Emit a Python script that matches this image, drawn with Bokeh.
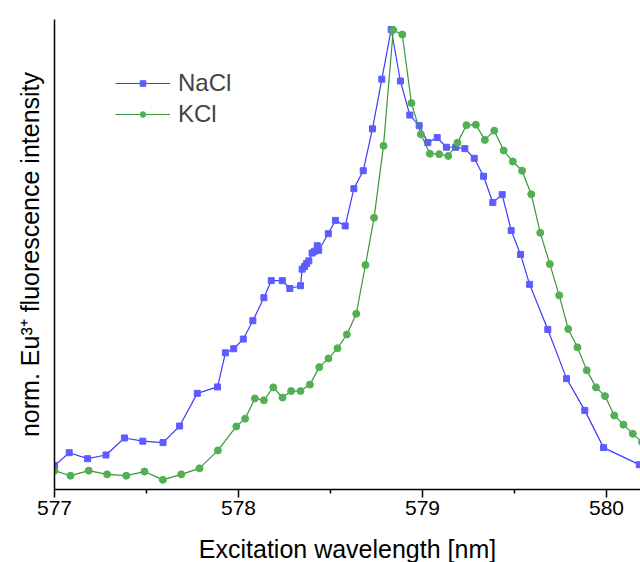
from bokeh.plotting import figure
from bokeh.models import Range1d, FixedTicker, Legend, LegendItem
from bokeh.embed import file_html
from bokeh.resources import INLINE

# ---------------- data ----------------
nacl_wl = [577.000, 577.080, 577.180, 577.280, 577.380, 577.480, 577.590, 577.680, 577.776, 577.886,
           577.929, 577.974, 578.026, 578.078, 578.138, 578.178, 578.238, 578.279, 578.337, 578.346,
           578.359, 578.370, 578.382, 578.400, 578.413, 578.428, 578.436, 578.488, 578.527, 578.580,
           578.627, 578.678, 578.728, 578.779, 578.830, 578.880, 578.931, 578.982, 579.029, 579.080,
           579.130, 579.181, 579.230, 579.281, 579.332, 579.382, 579.433, 579.482, 579.533, 579.582,
           579.681, 579.783, 579.882, 579.984, 580.178]
nacl_int = [0.052, 0.080, 0.067, 0.075, 0.112, 0.105, 0.102, 0.138, 0.209, 0.223,
            0.297, 0.306, 0.327, 0.367, 0.417, 0.454, 0.454, 0.437, 0.443, 0.479,
            0.485, 0.491, 0.497, 0.514, 0.518, 0.530, 0.520, 0.556, 0.585, 0.573,
            0.654, 0.693, 0.784, 0.892, 1.000, 0.888, 0.814, 0.791, 0.754, 0.765,
            0.744, 0.744, 0.741, 0.720, 0.681, 0.624, 0.641, 0.563, 0.511, 0.446,
            0.348, 0.241, 0.172, 0.091, 0.054]

kcl_wl = [577.000, 577.087, 577.186, 577.286, 577.390, 577.489, 577.589, 577.689, 577.788, 577.888,
          577.988, 578.036, 578.089, 578.138, 578.189, 578.239, 578.286, 578.337, 578.388, 578.439,
          578.489, 578.538, 578.589, 578.640, 578.690, 578.737, 578.788, 578.841, 578.890, 578.940,
          578.991, 579.040, 579.091, 579.140, 579.190, 579.239, 579.290, 579.339, 579.390, 579.441,
          579.491, 579.541, 579.591, 579.640, 579.692, 579.743, 579.792, 579.842, 579.893, 579.943,
          579.992, 580.042, 580.092, 580.143, 580.193]
kcl_int = [0.041, 0.030, 0.041, 0.033, 0.030, 0.039, 0.021, 0.033, 0.046, 0.085,
           0.137, 0.154, 0.198, 0.194, 0.222, 0.200, 0.214, 0.214, 0.228, 0.266,
           0.285, 0.307, 0.337, 0.382, 0.488, 0.591, 0.747, 0.999, 0.989, 0.840,
           0.772, 0.730, 0.729, 0.725, 0.754, 0.792, 0.793, 0.760, 0.780, 0.737,
           0.713, 0.693, 0.642, 0.558, 0.490, 0.422, 0.349, 0.309, 0.259, 0.222,
           0.203, 0.161, 0.141, 0.121, 0.103]

series_names = ["NaCl", "KCl"]
x_ticks = [577, 578, 579, 580]
x_minor_ticks = [577.5, 578.5, 579.5]
x_title = "Excitation wavelength [nm]"
y_title = "norm. Eu\u00b3\u207a fluorescence intensity"

FONT = "Liberation Sans"

p = figure(width=640, height=570, output_backend="svg", toolbar_location=None,
           x_range=Range1d(577, 580.1848), y_range=Range1d(0, 1.0217),
           min_border_left=54, min_border_right=0, min_border_top=19, min_border_bottom=81)
p.outline_line_color = None
p.xgrid.visible = False
p.ygrid.visible = False
p.background_fill_color = "white"
p.border_fill_color = "white"

# x axis
xa = p.xaxis[0]
xa.ticker = FixedTicker(ticks=x_ticks, minor_ticks=x_minor_ticks)
xa.axis_line_color = "black"
xa.axis_line_width = 1.5
xa.major_tick_line_width = 1.5
xa.minor_tick_line_width = 1.5
xa.major_tick_out = 8
xa.major_tick_in = 0
xa.minor_tick_out = 4
xa.minor_tick_in = 0
xa.major_label_text_font = FONT
xa.major_label_text_font_size = "21px"
xa.major_label_text_color = "black"
xa.major_label_standoff = 3
xa.axis_label = x_title
xa.axis_label_text_font = FONT
xa.axis_label_text_font_size = "25px"
xa.axis_label_text_font_style = "normal"
xa.axis_label_text_color = "black"
xa.axis_label_standoff = 17

# y axis: bare line with title
ya = p.yaxis[0]
ya.ticker = FixedTicker(ticks=[])
ya.axis_line_color = "black"
ya.axis_line_width = 1.5
ya.major_tick_out = 0
ya.major_tick_in = 0
ya.minor_tick_out = 0
ya.minor_tick_in = 0
ya.major_label_text_font_size = "0px"
ya.major_label_standoff = 0
ya.axis_label = y_title
ya.axis_label_text_font = FONT
ya.axis_label_text_font_size = "25px"
ya.axis_label_text_font_style = "normal"
ya.axis_label_text_color = "black"
ya.axis_label_standoff = 11

# series
ln_n = p.line(nacl_wl, nacl_int, line_color="#3c3cff", line_width=1.2)
sc_n = p.scatter(nacl_wl, nacl_int, marker="square", size=6,
                 fill_color="#5c5cff", line_color="#5c5cff")
ln_k = p.line(kcl_wl, kcl_int, line_color="#389838", line_width=1.2)
sc_k = p.scatter(kcl_wl, kcl_int, marker="circle", size=7,
                 fill_color="#52b052", line_color="#52b052")

legend = Legend(items=[LegendItem(label=series_names[0], renderers=[ln_n, sc_n]),
                       LegendItem(label=series_names[1], renderers=[ln_k, sc_k])],
                location=(61, 361), glyph_width=55, glyph_height=14, label_height=27,
                spacing=3, padding=0, margin=0, label_standoff=8,
                border_line_color=None, background_fill_alpha=0,
                label_text_font=FONT, label_text_font_size="24px",
                label_text_baseline="alphabetic")
p.add_layout(legend)

open("out.html", "w").write(file_html(p, INLINE))
